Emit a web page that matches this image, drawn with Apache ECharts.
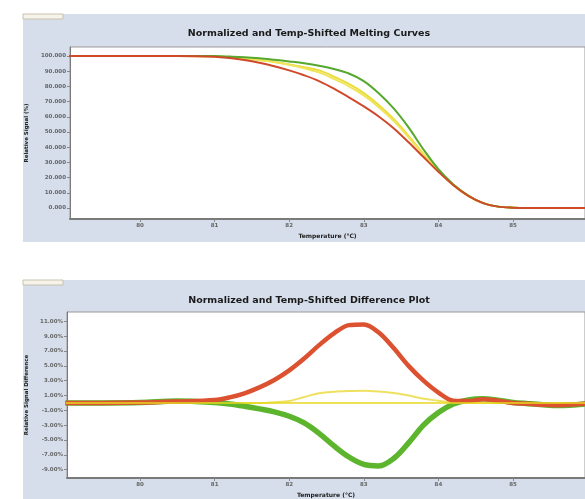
<!DOCTYPE html>
<html>
<head>
<meta charset="utf-8">
<script src="https://cdn.jsdelivr.net/npm/echarts@6/dist/echarts.min.js"></script>
<style>
html,body{margin:0;padding:0;background:#fff;}
#c{width:585px;height:499px;}
</style>
</head>
<body>
<div id="c"></div>
<script>
// ---- data ----
const temps = [79.0, 79.5, 80.0, 80.5, 81.0, 81.2, 81.4, 81.6, 81.8, 82.0, 82.2, 82.4, 82.6, 82.8, 83.0, 83.2, 83.4, 83.6, 83.8, 84.0, 84.2, 84.4, 84.6, 84.8, 85.0, 85.2, 85.4, 85.6, 86.0];

const meltRed    = [100,100,100,100,99.5,98.6,97.3,95.5,93.2,90.5,87.3,83.5,78.5,72.8,66.8,60.2,52.5,43.2,33.5,23.8,15.0,8.0,3.2,0.9,0.2,0,0,0,0];
const meltGreen  = [100,100,100,100,99.9,99.6,99.2,98.5,97.5,96.4,95.2,93.6,91.4,88.5,83.5,75.5,65.5,53.0,38.5,25.5,15.5,8.2,3.2,0.9,0.2,0,0,0,0];
const meltYellowA= [100,100,100,100,99.8,99.1,98.3,97.3,96.1,94.4,92.6,90.5,86.4,81.6,75.6,67.8,58.6,47.5,35.6,24.6,15.2,8.0,3.2,0.9,0.2,0,0,0,0];
const meltYellowB= [100,100,100,100,99.8,99.1,98.3,97.3,96.0,94.2,91.9,89.2,84.9,80.0,74.0,66.3,57.3,46.5,35.0,24.3,15.1,8.0,3.2,0.9,0.2,0,0,0,0];

const diffRed    = [0,0,0.05,0.2,0.4,0.75,1.3,2.1,3.1,4.4,6.0,7.8,9.4,10.5,10.6,9.5,7.4,5.0,3.0,1.4,0.3,0.25,0.5,0.3,0,-0.1,-0.25,-0.3,-0.1];
const diffGreen  = [0,0,0.05,0.25,0.05,-0.15,-0.45,-0.8,-1.2,-1.8,-2.7,-4.1,-5.8,-7.3,-8.3,-8.5,-7.5,-5.4,-3.0,-1.3,-0.15,0.4,0.55,0.35,0.07,-0.1,-0.25,-0.35,-0.1];
const diffYellow = [0,0,0,0,0,0,0,0,0.1,0.25,0.8,1.3,1.5,1.6,1.65,1.55,1.35,1.0,0.55,0.3,0.05,0,0,0,0,0,0,0,0];
const diffRef    = [0,0,0,0,0,0,0,0,0,0,0,0,0,0,0,0,0,0,0,0,0,0,0,0,0,0,0,0,0];

const xTicks = [80, 81, 82, 83, 84, 85];
const meltTicks = [0, 10, 20, 30, 40, 50, 60, 70, 80, 90, 100];
const diffTicks = [11, 9, 7, 5, 3, 1, -1, -3, -5, -7, -9];

const titleTop = 'Normalized and Temp-Shifted Melting Curves';
const titleBottom = 'Normalized and Temp-Shifted Difference Plot';
const yNameTop = 'Relative Signal (%)';
const yNameBottom = 'Relative Signal Difference';
const xName = 'Temperature (°C)';

// ---- chart ----
const pair = arr => temps.map((t, i) => [t, arr[i]]);
const FONT = 'DejaVu Sans';
const panel = '#d5deea';

function xAxisCfg(idx, min, max) {
  return {
    type: 'value', gridIndex: idx, min: min, max: max,
    name: xName, nameLocation: 'middle', nameGap: 14,
    nameTextStyle: {fontFamily: FONT, fontWeight: 'bold', fontSize: 6, color: '#222'},
    axisLine: {onZero: false, lineStyle: {color: '#7a7a7a', width: 2}},
    axisTick: {customValues: xTicks, length: 3, lineStyle: {color: '#888'}},
    axisLabel: {customValues: xTicks, fontFamily: FONT, fontWeight: 'bold', fontSize: 5.5, color: '#666', margin: 4},
    splitLine: {show: false}
  };
}

function lineSeries(xi, data, color, width) {
  return {type: 'line', xAxisIndex: xi, yAxisIndex: xi, data: data, smooth: 0.35,
    showSymbol: false, lineStyle: {color: color, width: width}};
}

const chart = echarts.init(document.getElementById('c'), null, {renderer: 'canvas'});
const option = {
  animation: false,
  backgroundColor: '#ffffff',
  graphic: [
    {type: 'rect', z: -10, shape: {x: 23, y: 14, width: 562, height: 228}, style: {fill: panel}},
    {type: 'rect', z: -10, shape: {x: 23, y: 280, width: 562, height: 219}, style: {fill: panel}},
    {type: 'rect', z: -9, shape: {x: 23, y: 14, width: 40, height: 5}, style: {fill: '#f6f3ea', stroke: '#c9c2ae', lineWidth: 1}},
    {type: 'rect', z: -9, shape: {x: 23, y: 280, width: 40, height: 5}, style: {fill: '#f6f3ea', stroke: '#c9c2ae', lineWidth: 1}},
    {type: 'text', z: 100, x: 309, y: 34, style: {text: titleTop, fill: '#1a1a1a', font: 'bold 9.5px "DejaVu Sans"', align: 'center', verticalAlign: 'middle'}},
    {type: 'text', z: 100, x: 309, y: 301, style: {text: titleBottom, fill: '#1a1a1a', font: 'bold 9.5px "DejaVu Sans"', align: 'center', verticalAlign: 'middle'}}
  ],
  grid: [
    {left: 70, top: 47, width: 515, height: 172, show: true, backgroundColor: '#ffffff', borderColor: '#9a9a9a', borderWidth: 1},
    {left: 67, top: 312, width: 518, height: 168, show: true, backgroundColor: '#ffffff', borderColor: '#9a9a9a', borderWidth: 1}
  ],
  xAxis: [
    xAxisCfg(0, 79.062, 85.965),
    xAxisCfg(1, 79.021, 85.965)
  ],
  yAxis: [
    {
      type: 'value', gridIndex: 0, min: -7.24, max: 105.9,
      name: yNameTop, nameLocation: 'middle', nameGap: 34,
      nameTextStyle: {fontFamily: FONT, fontWeight: 'bold', fontSize: 5.5, color: '#222'},
      axisLine: {show: true, lineStyle: {color: '#7a7a7a', width: 1}},
      axisTick: {customValues: meltTicks, length: 3, lineStyle: {color: '#888'}},
      axisLabel: {customValues: meltTicks, fontFamily: FONT, fontWeight: 'bold', fontSize: 5.5, color: '#666', margin: 4,
        formatter: v => v.toFixed(3)},
      splitLine: {show: false}
    },
    {
      type: 'value', gridIndex: 1, min: -10.13, max: 12.27,
      name: yNameBottom, nameLocation: 'middle', nameGap: 31,
      nameTextStyle: {fontFamily: FONT, fontWeight: 'bold', fontSize: 5.5, color: '#222'},
      axisLine: {show: true, onZero: false, lineStyle: {color: '#7a7a7a', width: 1}},
      axisTick: {customValues: diffTicks, length: 3, lineStyle: {color: '#888'}},
      axisLabel: {customValues: diffTicks, fontFamily: FONT, fontWeight: 'bold', fontSize: 5.5, color: '#666', margin: 4,
        formatter: v => v.toFixed(2) + '%'},
      splitLine: {show: false}
    }
  ],
  series: [
    lineSeries(0, pair(meltYellowA), '#e9dc3c', 2),
    lineSeries(0, pair(meltYellowB), '#f0e45a', 2),
    lineSeries(0, pair(meltGreen), '#56a82e', 2),
    lineSeries(0, pair(meltRed), '#cf4a2a', 2),

    lineSeries(1, pair(diffYellow), '#efe160', 2),
    lineSeries(1, pair(diffGreen), '#5cb52c', 5.5),
    lineSeries(1, pair(diffRed), '#dc5230', 4.5),
    lineSeries(1, pair(diffRef), '#e8d820', 1.5)
  ]
};
chart.setOption(option);
</script>
</body>
</html>
